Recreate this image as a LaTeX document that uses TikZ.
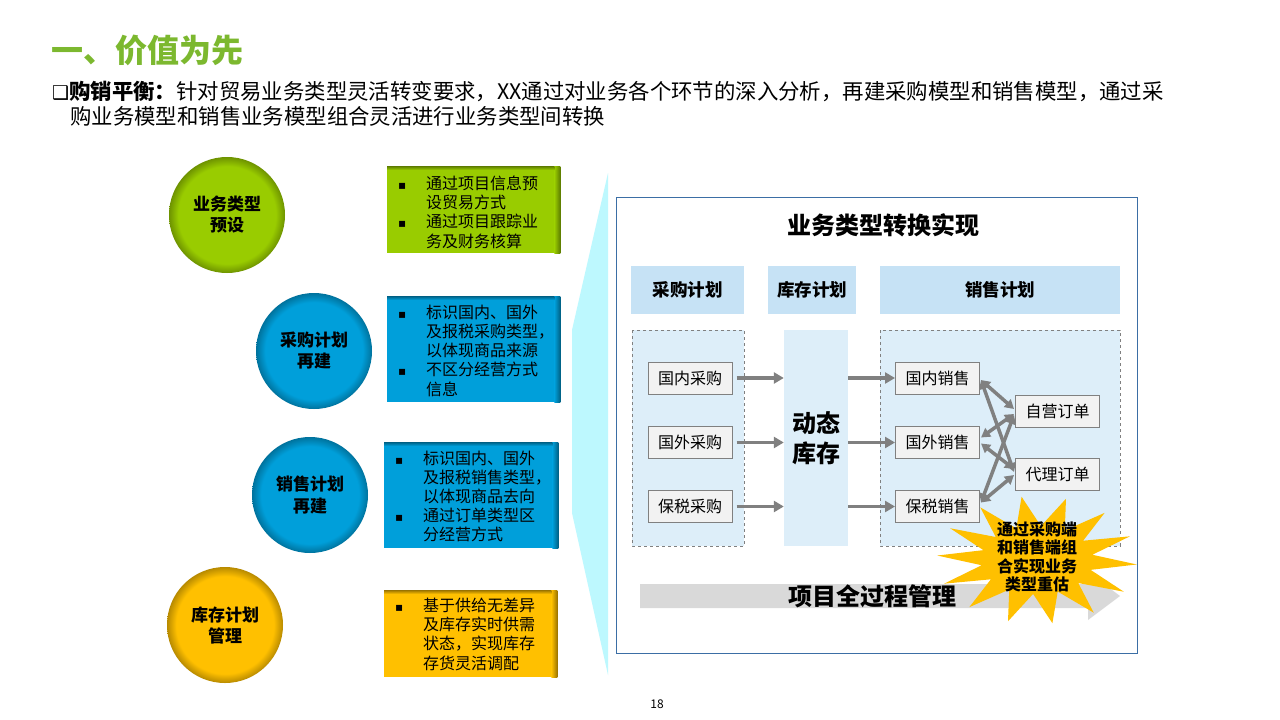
\documentclass[tikz,border=0pt]{standalone}
\usepackage{fontspec}
\setmainfont{Noto Sans CJK SC}
\newfontfamily\dejavu{DejaVu Sans}
\usetikzlibrary{arrows.meta,calc}
\definecolor{titlegreen}{HTML}{7CB82F}
\definecolor{cgreen}{HTML}{99CC00}
\definecolor{cblue}{HTML}{009FDA}
\definecolor{corange}{HTML}{FFC000}
\definecolor{wedgec}{HTML}{BDF8FE}
\definecolor{hdrc}{HTML}{C6E2F5}
\definecolor{contc}{HTML}{DDEEF9}
\definecolor{iboxc}{HTML}{F2F2F2}
\definecolor{ibord}{HTML}{808080}
\definecolor{framec}{HTML}{3B6EA5}
\definecolor{arrc}{HTML}{808080}
\definecolor{bigarrc}{HTML}{D9D9D9}
\pgfdeclareradialshading{shgreen}{\pgfpoint{0bp}{0bp}}{color(0bp)=(cgreen);color(21bp)=(cgreen);color(25bp)=(cgreen!72!black);color(50bp)=(cgreen!72!black)}
\pgfdeclareradialshading{shblue}{\pgfpoint{0bp}{0bp}}{color(0bp)=(cblue);color(21bp)=(cblue);color(25bp)=(cblue!72!black);color(50bp)=(cblue!72!black)}
\pgfdeclareradialshading{shorange}{\pgfpoint{0bp}{0bp}}{color(0bp)=(corange);color(21bp)=(corange);color(25bp)=(corange!72!black);color(50bp)=(corange!72!black)}
\newcommand\mybul{{\dejavu\fontsize{12}{12}\selectfont ▪}}
\begin{document}
\begin{tikzpicture}[x=1pt,y=-1pt,
  circnode/.style={circle, minimum size=116, inner sep=0, align=center, font=\fontsize{17}{21}\selectfont\bfseries},
  lbox/.style={anchor=north west, inner sep=0, minimum width=173, minimum height=#1},
  btext/.style={anchor=north west, inner sep=0, font=\fontsize{16}{18.6}\selectfont},
  hdrbox/.style={fill=hdrc, inner sep=0, minimum height=48, font=\fontsize{17.5}{20}\selectfont\bfseries},
  contbox/.style={fill=contc, draw=ibord, dashed, line width=0.8},
  inbox/.style={fill=iboxc, draw=ibord, line width=1, minimum width=84, minimum height=32, inner sep=0, font=\fontsize{16}{20}\selectfont},
  garr/.style={draw=arrc, line width=3.5, -{Triangle[length=10pt,width=11pt]}},
  darr/.style={draw=arrc, line width=3.5, {Triangle[length=9pt,width=10pt]}-{Triangle[length=9pt,width=10pt]}}
]
\useasboundingbox (0,0) rectangle (1280,720);
\fill[white] (0,0) rectangle (1280,720);

% title and subtitle
\node[anchor=west, inner sep=0, text=titlegreen, font=\fontsize{32}{32}\selectfont\bfseries] (title) at (51,50) {一、价值为先};
\node[anchor=west, inner sep=0, font=\fontsize{21.4}{24}\selectfont] (sub1) at (52,91) {{\dejavu\fontsize{19}{19}\selectfont ❑}\textbf{购销平衡：}针对贸易业务类型灵活转变要求，XX通过对业务各个环节的深入分析，再建采购模型和销售模型，通过采};
\node[anchor=west, inner sep=0, font=\fontsize{21.4}{24}\selectfont] (sub2) at (70,116) {购业务模型和销售业务模型组合灵活进行业务类型间转换};

% left circles
\node[circnode, shading=shgreen] (c1) at (227,215) {业务类型\\预设};
\node[circnode, shading=shblue] (c2) at (314,351) {采购计划\\再建};
\node[circnode, shading=shblue] (c3) at (310,495) {销售计划\\再建};
\node[circnode, shading=shorange] (c4) at (225,625) {库存计划\\管理};

% left boxes
\node[lbox=87, fill=cgreen] (b1) at (387,166) {};
\node[lbox=106, fill=cblue] (b2) at (387,296) {};
\node[lbox=106, fill=cblue, minimum width=174] (b3) at (384,442) {};
\node[lbox=87, fill=corange] (b4) at (384,590) {};
\foreach \b/\c in {b1/cgreen,b2/cblue,b3/cblue,b4/corange}{
  \shade[left color=\c, right color=\c!60!black] ($(\b.north east)+(-6,0)$) rectangle (\b.south east);
  \shade[top color=\c!60!black, bottom color=\c] (\b.north west) rectangle ($(\b.north east)+(-6,4)$);
}
\node[btext] (t1) at (398,176) {\begin{tabular}{@{}p{28pt}@{}l@{}}\mybul & 通过项目信息预\\ & 设贸易方式\\ \mybul & 通过项目跟踪业\\ & 务及财务核算\end{tabular}};
\node[btext] (t2) at (398,305) {\begin{tabular}{@{}p{28pt}@{}l@{}}\mybul & 标识国内、国外\\ & 及报税采购类型，\\ & 以体现商品来源\\ \mybul & 不区分经营方式\\ & 信息\end{tabular}};
\node[btext] (t3) at (395,451) {\begin{tabular}{@{}p{28pt}@{}l@{}}\mybul & 标识国内、国外\\ & 及报税销售类型，\\ & 以体现商品去向\\ \mybul & 通过订单类型区\\ & 分经营方式\end{tabular}};
\node[btext] (t4) at (395,598) {\begin{tabular}{@{}p{28pt}@{}l@{}}\mybul & 基于供给无差异\\ & 及库存实时供需\\ & 状态，实现库存\\ & 存货灵活调配\end{tabular}};

% wedge
\fill[wedgec] (608,173) -- (572,330) -- (572,513) -- (608,675) -- cycle;

% main frame
\draw[framec, line width=1, fill=white] (616,197) rectangle (1137,653);
\node[inner sep=0, font=\fontsize{24}{28}\selectfont\bfseries] (ft) at (883,225) {业务类型转换实现};

% headers
\node[hdrbox, minimum width=113] (h1) at (687.5,290) {采购计划};
\node[hdrbox, minimum width=88] (h2) at (812,290) {库存计划};
\node[hdrbox, minimum width=240] (h3) at (1000,290) {销售计划};

% containers
\draw[contbox] (632,330) rectangle (744,546);
\draw[contbox] (880,330) rectangle (1120,546);
\node[fill=contc, minimum width=64, minimum height=216, inner sep=0, align=center, font=\fontsize{24}{30}\selectfont\bfseries] (dyn) at (816,438) {动态\\库存};

% big arrow
\fill[bigarrc] (640,584) -- (1088,584) -- (1088,572) -- (1120,596) -- (1088,620) -- (1088,608) -- (640,608) -- cycle;
\node[inner sep=0, font=\fontsize{24}{28}\selectfont\bfseries] (pm) at (872,596) {项目全过程管理};

% star
\fill[corange] plot[samples at={0,...,27}, variable=\t] ({1037+cos(\t*360/28+4)*ifthenelse(mod(\t,2)==0,100,56)}, {560+sin(\t*360/28+4)*ifthenelse(mod(\t,2)==0,64,34)}) -- cycle;

% inner boxes
\node[inbox] (p1) at (690,378) {国内采购};
\node[inbox] (p2) at (690,442.5) {国外采购};
\node[inbox] (p3) at (690,506.5) {保税采购};
\node[inbox] (s1) at (937.5,378) {国内销售};
\node[inbox] (s2) at (937.5,442.5) {国外销售};
\node[inbox] (s3) at (937.5,506.5) {保税销售};
\node[inbox] (o1) at (1057.5,411) {自营订单};
\node[inbox] (o2) at (1057.5,474) {代理订单};

% arrows
\foreach \p/\s in {p1/s1,p2/s2,p3/s3}{
  \draw[garr, shorten <=4pt] (\p.east) -- (\p.east -| dyn.west);
  \draw[garr] (\s.west -| dyn.east) -- (\s.west);
}
\draw[darr] ($(s1.east)+(1,2)$) -- ($(o1.west)+(-1,-2)$);
\draw[darr] ($(s1.east)+(1,2)$) -- ($(o2.west)+(-1,-2)$);
\draw[darr] ($(s2.east)+(1,-5)$) -- ($(o1.west)+(-1,3)$);
\draw[darr] ($(s2.east)+(1,1)$) -- ($(o2.west)+(-1,-5)$);
\draw[darr] ($(s3.east)+(1,-4)$) -- ($(o1.west)+(-1,4)$);
\draw[darr] ($(s3.east)+(1,-4)$) -- ($(o2.west)+(-1,1)$);

% star text
\node[inner sep=0, align=center, font=\fontsize{16}{18.5}\selectfont\bfseries] (st) at (1037,557) {通过采购端\\和销售端组\\合实现业务\\类型重估};

% page number
\node[inner sep=0, font=\fontsize{12}{12}\selectfont] (pg) at (657,704) {18};
\end{tikzpicture}
\end{document}
